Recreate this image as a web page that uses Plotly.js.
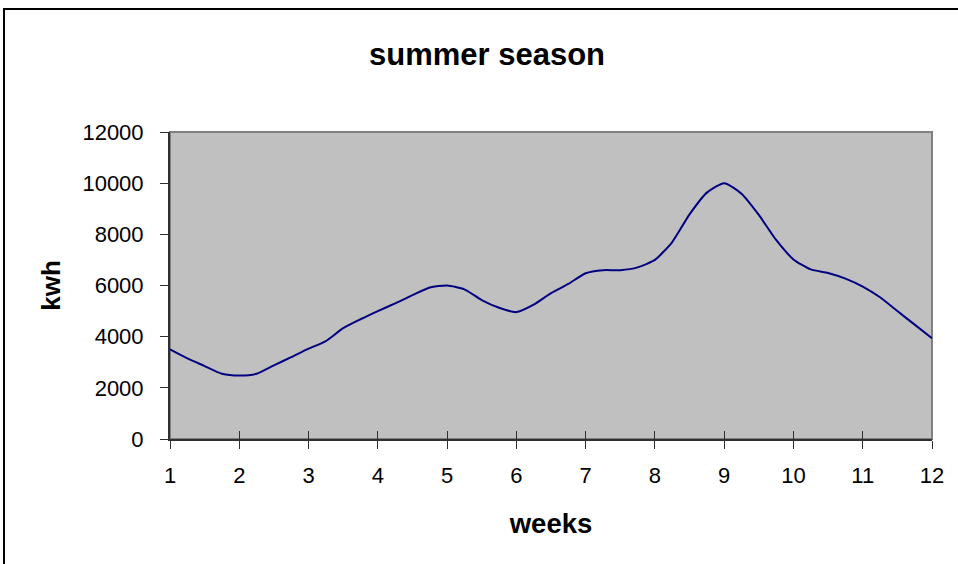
<!DOCTYPE html>
<html>
<head>
<meta charset="utf-8">
<script src="https://cdn.plot.ly/plotly-3.0.1.min.js"></script>
<style>
  html, body { margin: 0; padding: 0; background: #ffffff; }
  #chart { width: 958px; height: 564px; }
</style>
</head>
<body>
<div id="chart"></div>
<script>
// weeks (quarter-week steps)
const weeks = [
  1, 1.25, 1.5, 1.75, 2, 2.25, 2.5, 2.75, 3, 3.25, 3.5, 3.75,
  4, 4.25, 4.5, 4.75, 5, 5.25, 5.5, 5.75, 6, 6.25, 6.5, 6.75,
  7, 7.25, 7.5, 7.75, 8, 8.25, 8.5, 8.75, 9, 9.25, 9.5, 9.75,
  10, 10.25, 10.5, 10.75, 11, 11.25, 11.5, 11.75, 12
];
const kwh = [
  3500, 3150, 2850, 2550, 2480, 2550, 2880, 3200, 3530, 3830, 4330, 4680,
  5000, 5300, 5620, 5920, 6000, 5850, 5430, 5130, 4960, 5250, 5700, 6060,
  6480, 6600, 6600, 6710, 7000, 7700, 8780, 9630, 10000, 9590, 8760, 7780,
  7020, 6630, 6490, 6270, 5960, 5540, 5000, 4470, 3940
];
const xTicks = [1, 2, 3, 4, 5, 6, 7, 8, 9, 10, 11, 12];
const yTicks = [0, 2000, 4000, 6000, 8000, 10000, 12000];

const font = "Liberation Sans, Arial, Helvetica, sans-serif";

const data = [
  {
    x: weeks, y: kwh, type: 'scatter', mode: 'lines',
    line: { color: '#000080', width: 2, shape: 'spline', smoothing: 0.6 },
    hoverinfo: 'x+y', showlegend: false
  },
  {
    x: [1, 12], y: [0, 0], xaxis: 'x2', type: 'scatter', mode: 'lines',
    line: { color: 'rgba(0,0,0,0)', width: 0 }, hoverinfo: 'skip', showlegend: false
  }
];

const layout = {
  width: 958, height: 564,
  margin: { l: 170, r: 26, t: 132, b: 125 },
  paper_bgcolor: '#ffffff',
  plot_bgcolor: '#c0c0c0',
  font: { family: font, color: '#000000' },
  title: {
    text: '<b>summer season</b>',
    font: { family: font, size: 31, color: '#000000' },
    xref: 'container', yref: 'container',
    x: 487 / 958, xanchor: 'center',
    y: 1 - 54 / 564, yanchor: 'middle'
  },
  xaxis: {
    range: [1, 12], tickvals: xTicks, ticktext: xTicks.map(String),
    showgrid: false, zeroline: false,
    showline: true, linecolor: '#303030', linewidth: 2,
    ticks: 'outside', ticklen: 8, tickwidth: 1, tickcolor: '#303030',
    ticklabelstandoff: 8,
    tickfont: { family: font, size: 22, color: '#000000' },
    title: { text: '<b>weeks</b>', font: { family: font, size: 27.5, color: '#000000' }, standoff: 26 },
    automargin: false, fixedrange: true
  },
  xaxis2: {
    overlaying: 'x', range: [1, 12], tickvals: xTicks,
    showticklabels: false, showgrid: false, zeroline: false, showline: false,
    ticks: 'inside', ticklen: 8, tickwidth: 1, tickcolor: '#303030',
    side: 'bottom', fixedrange: true
  },
  yaxis: {
    range: [0, 12000], tickvals: yTicks, ticktext: yTicks.map(String),
    showgrid: false, zeroline: false,
    showline: true, linecolor: '#303030', linewidth: 2,
    ticks: 'outside', ticklen: 8, tickwidth: 1, tickcolor: '#303030',
    ticklabelstandoff: 12,
    tickfont: { family: font, size: 22, color: '#000000' },
    title: { text: '<b>kwh</b>', font: { family: font, size: 26, color: '#000000' }, standoff: 14 },
    automargin: false, fixedrange: true
  },
  shapes: [
    {
      type: 'rect', xref: 'paper', yref: 'paper', x0: 0, x1: 1, y0: 0, y1: 1,
      line: { color: '#808080', width: 2 }, layer: 'below'
    },
    {
      type: 'rect', xref: 'paper', yref: 'paper',
      x0: (4 - 170) / 762, x1: 1.25, y0: -0.6, y1: (439 - 9) / 307,
      line: { color: '#000000', width: 2 }, fillcolor: 'rgba(0,0,0,0)', layer: 'above'
    }
  ],
  showlegend: false
};

Plotly.newPlot('chart', data, layout, { displayModeBar: false, staticPlot: true });
</script>
</body>
</html>
